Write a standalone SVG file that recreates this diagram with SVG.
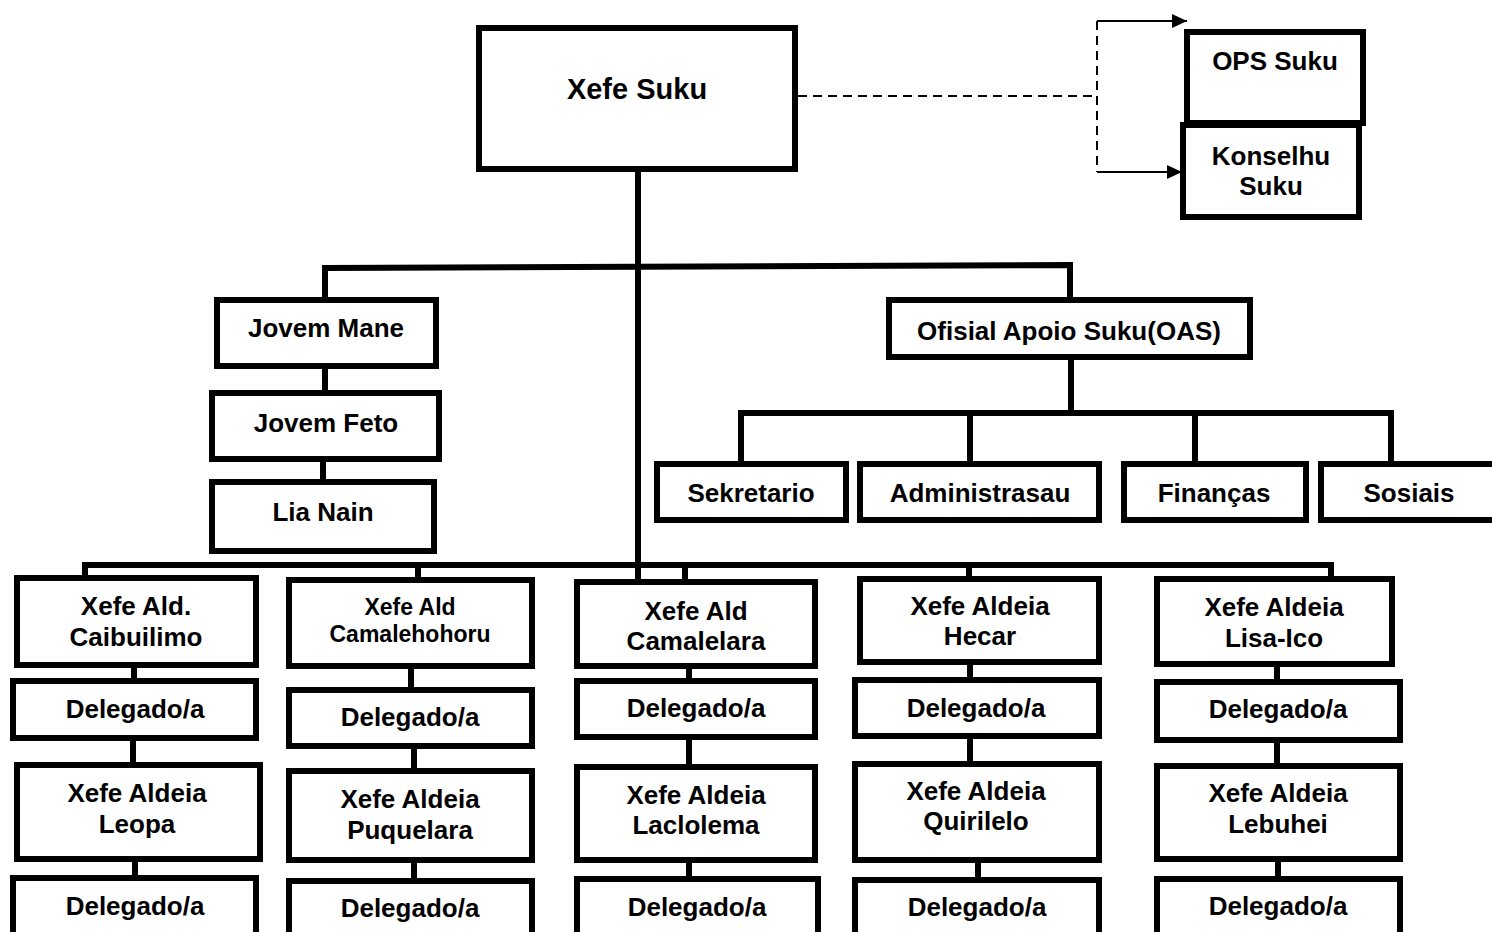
<svg xmlns="http://www.w3.org/2000/svg" width="1492" height="932" viewBox="0 0 1492 932">
<style>
.box{fill:#fff;stroke:#000;stroke-width:6}
.t{font-family:"Liberation Sans",Arial,sans-serif;font-weight:bold;font-size:26px;fill:#000;text-anchor:middle}
.sm{font-size:23px}
.big{font-size:29px}
.ln{fill:none;stroke:#000;stroke-width:6}
.dash{fill:none;stroke:#000;stroke-width:2;stroke-dasharray:9,6}
.thin{fill:none;stroke:#000;stroke-width:2}
</style>
<defs>
<marker id="arr" markerUnits="userSpaceOnUse" markerWidth="15" markerHeight="14" refX="15" refY="7" orient="auto">
<path d="M0,0 L15,7 L0,14 z" fill="#000"/>
</marker>
</defs>
<rect width="1492" height="932" fill="#fff"/>
<g id="connectors">
<path class="ln" d="M638,172 V580"/>
<path class="ln" d="M325,297 V268 L1070,265 V297"/>
<path class="ln" d="M325,369 V390 M323,462 V479"/>
<path class="ln" d="M1071,360 V416"/>
<path class="ln" d="M741,461 V413 H1391 V461 M970,413 V461 M1195,413 V461"/>
<path class="ln" d="M85,577 V565 H1331 V577 M418,565 V578 M685,565 V580 M969,565 V577"/>
<path class="ln" d="M134,668 V678 M133,741 V762 M135,862 V875"/>
<path class="ln" d="M411,669 V687 M414,749 V768 M414,863 V878"/>
<path class="ln" d="M689,669 V678 M689,740 V764 M689,863 V876"/>
<path class="ln" d="M970,665 V677 M970,739 V761 M978,863 V877"/>
<path class="ln" d="M1277,667 V679 M1277,743 V763 M1278,862 V876"/>
<path class="dash" d="M798,96 H1097 M1097,21 V172"/>
<path class="thin" d="M1097,21 H1187" marker-end="url(#arr)"/>
<path class="thin" d="M1097,172 H1182" marker-end="url(#arr)"/>
</g>
<g id="xefe-suku"><rect class="box" x="479" y="28" width="316" height="141"/><text class="t big" x="637" y="99">Xefe Suku</text></g>
<g id="ops-suku"><rect class="box" x="1187" y="32" width="176" height="91"/><text class="t" x="1275" y="70">OPS Suku</text></g>
<g id="konselhu-suku"><rect class="box" x="1183" y="125" width="176" height="92"/><text class="t" x="1271" y="165">Konselhu</text><text class="t" x="1271" y="195">Suku</text></g>
<g id="jovem-mane"><rect class="box" x="217" y="300" width="219" height="66"/><text class="t" x="326" y="337">Jovem Mane</text></g>
<g id="jovem-feto"><rect class="box" x="212" y="393" width="227" height="66"/><text class="t" x="326" y="432">Jovem Feto</text></g>
<g id="lia-nain"><rect class="box" x="212" y="482" width="222" height="69"/><text class="t" x="323" y="521">Lia Nain</text></g>
<g id="oas"><rect class="box" x="889" y="300" width="361" height="57"/><text class="t" x="1069" y="340">Ofisial Apoio Suku(OAS)</text></g>
<g id="sekretario"><rect class="box" x="657" y="464" width="189" height="56"/><text class="t" x="751" y="502">Sekretario</text></g>
<g id="administrasau"><rect class="box" x="860" y="464" width="239" height="56"/><text class="t" x="980" y="502">Administrasau</text></g>
<g id="financas"><rect class="box" x="1124" y="464" width="182" height="56"/><text class="t" x="1214" y="502">Finanças</text></g>
<g id="sosiais"><rect class="box" x="1321" y="464" width="185" height="56"/><text class="t" x="1409" y="502">Sosiais</text></g>
<g id="caibuilimo"><rect class="box" x="17" y="578" width="239" height="87"/><text class="t" x="136" y="615">Xefe Ald.</text><text class="t" x="136" y="646">Caibuilimo</text></g>
<g id="delegado-1a"><rect class="box" x="13" y="681" width="243" height="57"/><text class="t" x="135" y="718">Delegado/a</text></g>
<g id="leopa"><rect class="box" x="17" y="765" width="243" height="94"/><text class="t" x="137" y="802">Xefe Aldeia</text><text class="t" x="137" y="833">Leopa</text></g>
<g id="delegado-1b"><rect class="box" x="13" y="878" width="243" height="70"/><text class="t" x="135" y="915">Delegado/a</text></g>
<g id="camalehohoru"><rect class="box" x="289" y="580" width="243" height="86"/><text class="t sm" x="410" y="615">Xefe Ald</text><text class="t sm" x="410" y="642">Camalehohoru</text></g>
<g id="delegado-2a"><rect class="box" x="289" y="690" width="243" height="56"/><text class="t" x="410" y="726">Delegado/a</text></g>
<g id="puquelara"><rect class="box" x="289" y="771" width="243" height="89"/><text class="t" x="410" y="808">Xefe Aldeia</text><text class="t" x="410" y="839">Puquelara</text></g>
<g id="delegado-2b"><rect class="box" x="289" y="881" width="243" height="70"/><text class="t" x="410" y="917">Delegado/a</text></g>
<g id="camalelara"><rect class="box" x="577" y="582" width="238" height="84"/><text class="t" x="696" y="620">Xefe Ald</text><text class="t" x="696" y="650">Camalelara</text></g>
<g id="delegado-3a"><rect class="box" x="577" y="681" width="238" height="56"/><text class="t" x="696" y="717">Delegado/a</text></g>
<g id="laclolema"><rect class="box" x="577" y="767" width="238" height="93"/><text class="t" x="696" y="804">Xefe Aldeia</text><text class="t" x="696" y="834">Laclolema</text></g>
<g id="delegado-3b"><rect class="box" x="577" y="879" width="241" height="70"/><text class="t" x="697" y="916">Delegado/a</text></g>
<g id="hecar"><rect class="box" x="860" y="579" width="239" height="83"/><text class="t" x="980" y="615">Xefe Aldeia</text><text class="t" x="980" y="645">Hecar</text></g>
<g id="delegado-4a"><rect class="box" x="855" y="680" width="244" height="56"/><text class="t" x="976" y="717">Delegado/a</text></g>
<g id="quirilelo"><rect class="box" x="855" y="764" width="244" height="96"/><text class="t" x="976" y="800">Xefe Aldeia</text><text class="t" x="976" y="830">Quirilelo</text></g>
<g id="delegado-4b"><rect class="box" x="855" y="880" width="244" height="70"/><text class="t" x="977" y="916">Delegado/a</text></g>
<g id="lisa-ico"><rect class="box" x="1157" y="579" width="235" height="85"/><text class="t" x="1274" y="616">Xefe Aldeia</text><text class="t" x="1274" y="647">Lisa-Ico</text></g>
<g id="delegado-5a"><rect class="box" x="1157" y="682" width="243" height="58"/><text class="t" x="1278" y="718">Delegado/a</text></g>
<g id="lebuhei"><rect class="box" x="1157" y="766" width="243" height="93"/><text class="t" x="1278" y="802">Xefe Aldeia</text><text class="t" x="1278" y="833">Lebuhei</text></g>
<g id="delegado-5b"><rect class="box" x="1157" y="879" width="243" height="70"/><text class="t" x="1278" y="915">Delegado/a</text></g>
</svg>
